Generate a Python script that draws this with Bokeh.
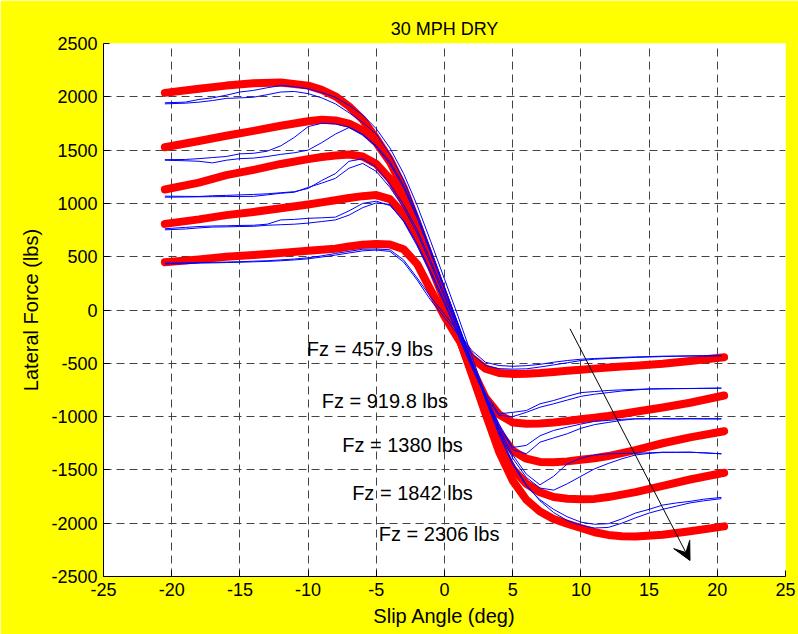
from bokeh.plotting import figure
from bokeh.models import Label, Arrow, VeeHead, FixedTicker
from bokeh.embed import file_html
from bokeh.resources import INLINE

# ---- data ----
loads = ["457.9", "919.8", "1380", "1842", "2306"]

red_x = [-20.5, -18, -16, -14, -12, -10, -9, -8, -7, -6, -5, -4, -3, -2, -1, 0,
         1, 2, 3, 4, 5, 6, 7, 8, 9, 10, 11, 12, 13, 14, 16, 18, 20.5]
red_2306 = [2037, 2075, 2105, 2128, 2135, 2105, 2065, 2005, 1910, 1785, 1610, 1410, 1150, 820, 470, 120,
            -230, -600, -970, -1330, -1600, -1780, -1890, -1960, -2005, -2045, -2085, -2110, -2122, -2125, -2108, -2075, -2030]
red_1842 = [1527, 1585, 1635, 1680, 1728, 1770, 1785, 1778, 1748, 1685, 1570, 1390, 1130, 810, 465, 115,
            -235, -590, -950, -1270, -1490, -1630, -1710, -1755, -1771, -1775, -1772, -1755, -1732, -1709, -1650, -1590, -1527]
red_1380 = [1130, 1195, 1265, 1315, 1370, 1415, 1435, 1450, 1458, 1440, 1370, 1230, 1020, 760, 440, 100,
            -240, -580, -900, -1150, -1320, -1395, -1425, -1428, -1420, -1405, -1390, -1370, -1343, -1315, -1250, -1195, -1137]
red_919 = [808, 850, 890, 920, 955, 990, 1010, 1030, 1050, 1068, 1078, 1040, 900, 690, 410, 90,
           -240, -550, -820, -980, -1055, -1068, -1065, -1055, -1042, -1025, -1010, -995, -975, -955, -915, -870, -802]
red_457 = [448, 475, 500, 515, 535, 555, 565, 575, 595, 612, 620, 615, 570, 430, 185, -60,
           -270, -450, -550, -590, -600, -598, -592, -582, -570, -560, -550, -540, -530, -522, -505, -478, -443]

blue_x = [-20.5, -19, -18, -17, -16, -15, -14, -13, -12, -11, -10, -9, -8, -7, -6, -5, -4, -3, -2, -1, 0,
          1, 2, 3, 4, 5, 6, 7, 8, 9, 10, 11, 12, 13, 14, 15, 16, 17, 18, 19, 20.3]
blue_2306_a = [1944, 1950, 1975, 1990, 2015, 2045, 2060, 2085, 2105, 2095, 2075, 2040, 1996, 1920, 1830, 1700, 1520, 1280, 980, 640, 290,
               -60, -430, -800, -1150, -1430, -1640, -1790, -1900, -1975, -2020, -2045, -2040, -2000, -1950, -1905, -1870, -1840, -1810, -1790, -1770]
blue_2306_b = [1934, 1940, 1950, 1965, 1985, 1990, 1996, 2020, 2045, 2050, 2030, 1990, 1934, 1850, 1760, 1650, 1460, 1220, 900, 560, 210,
               -140, -480, -840, -1170, -1450, -1650, -1780, -1870, -1940, -1990, -2010, -2005, -1960, -1905, -1870, -1830, -1810, -1795, -1775, -1758]
blue_1842_a = [1410, 1412, 1420, 1430, 1440, 1465, 1470, 1490, 1540, 1620, 1720, 1752, 1745, 1715, 1650, 1540, 1390, 1170, 880, 550, 210,
               -130, -480, -810, -1110, -1360, -1540, -1640, -1560, -1443, -1390, -1360, -1350, -1345, -1343, -1340, -1334, -1336, -1334, -1340, -1349]
blue_1842_b = [1405, 1400, 1395, 1380, 1405, 1420, 1425, 1440, 1460, 1475, 1500, 1570, 1650, 1712, 1640, 1530, 1370, 1150, 860, 530, 190,
               -150, -500, -830, -1130, -1390, -1570, -1670, -1690, -1630, -1560, -1490, -1440, -1396, -1360, -1345, -1336, -1334, -1334, -1340, -1349]
blue_1380_a = [1068, 1066, 1065, 1072, 1075, 1080, 1084, 1090, 1100, 1110, 1140, 1215, 1280, 1395, 1418, 1340, 1180, 990, 750, 460, 150,
               -170, -490, -800, -1070, -1290, -1270, -1180, -1130, -1099, -1070, -1045, -1036, -1025, -1021, -1020, -1020, -1021, -1020, -1021, -1021]
blue_1380_b = [1058, 1060, 1062, 1063, 1064, 1065, 1066, 1080, 1095, 1105, 1150, 1190, 1235, 1330, 1375, 1300, 1150, 960, 720, 430, 120,
               -190, -510, -820, -1090, -1310, -1349, -1240, -1200, -1161, -1110, -1075, -1055, -1035, -1021, -1020, -1020, -1021, -1020, -1021, -1021]
blue_919_a = [762, 775, 783, 788, 790, 793, 795, 805, 845, 850, 860, 865, 871, 930, 1000, 1021, 980, 840, 620, 360, 80,
              -220, -520, -780, -974, -960, -943, -880, -849, -810, -775, -765, -755, -749, -745, -742, -740, -738, -737, -735, -733]
blue_919_b = [752, 760, 770, 778, 780, 783, 785, 795, 800, 805, 815, 830, 845, 890, 960, 1005, 990, 830, 600, 340, 60,
              -240, -540, -810, -990, -1000, -960, -912, -880, -845, -810, -790, -775, -760, -750, -740, -738, -737, -736, -735, -733]
blue_457_a = [440, 442, 445, 447, 450, 453, 458, 462, 470, 478, 490, 508, 530, 550, 570, 572, 565, 470, 300, 120, -40,
              -200, -380, -490, -521, -528, -522, -510, -490, -474, -462, -455, -450, -445, -440, -437, -433, -432, -430, -429, -428]
blue_457_b = [432, 434, 440, 442, 445, 448, 452, 456, 462, 470, 480, 497, 515, 535, 555, 562, 550, 450, 280, 90, -70,
              -230, -410, -520, -550, -555, -552, -535, -515, -495, -474, -462, -455, -450, -445, -441, -437, -434, -432, -431, -430]

label_texts = ["Fz = 457.9 lbs", "Fz = 919.8 lbs", "Fz = 1380 lbs", "Fz = 1842 lbs", "Fz = 2306 lbs"]
label_x = [-10.1, -9.0, -7.5, -6.77, -4.82]
label_y = [-370, -849, -1262, -1721, -2106]

title_text = "30 MPH DRY"

arrow_start = (9.2, -176)
arrow_end = (18.0, -2350)

x_ticks = [-25, -20, -15, -10, -5, 0, 5, 10, 15, 20, 25]
y_ticks = [-2500, -2000, -1500, -1000, -500, 0, 500, 1000, 1500, 2000, 2500]

FONT = "Liberation Sans"

p = figure(width=798, height=634, output_backend="svg", toolbar_location=None,
           x_range=(-25, 25), y_range=(-2500, 2500),
           min_border_left=103, min_border_right=13, min_border_top=43, min_border_bottom=58)
p.border_fill_color = "#FFFF00"
p.background_fill_color = "white"
p.outline_line_color = None

p.title.text = title_text
p.title.align = "center"
p.title.text_font = FONT
p.title.text_font_size = "18px"
p.title.text_font_style = "normal"
p.title.text_color = "black"

for ax in (p.xaxis[0], p.yaxis[0]):
    ax.axis_line_color = "black"
    ax.axis_line_width = 1
    ax.major_tick_in = 6
    ax.major_tick_out = 0
    ax.minor_tick_line_color = None
    ax.major_tick_line_color = "black"
    ax.major_label_text_font = FONT
    ax.major_label_text_font_size = "18px"
    ax.major_label_text_color = "black"
    ax.major_label_standoff = 6
    ax.axis_label_text_font = FONT
    ax.axis_label_text_font_size = "20px"
    ax.axis_label_text_font_style = "normal"
    ax.axis_label_text_color = "black"
    ax.axis_label_standoff = 6

p.xaxis.ticker = FixedTicker(ticks=x_ticks)
p.yaxis.ticker = FixedTicker(ticks=y_ticks)
p.xaxis.major_label_overrides = {t: str(t) for t in x_ticks}
p.yaxis.major_label_overrides = {t: str(t) for t in y_ticks}
p.xaxis.axis_label = "Slip Angle (deg)"
p.yaxis.axis_label = "Lateral Force (lbs)"

for g in (p.xgrid[0], p.ygrid[0]):
    g.grid_line_color = "#444444"
    g.grid_line_dash = "8 5"
    g.grid_line_width = 1

reds = [red_457, red_919, red_1380, red_1842, red_2306]
for ys in reds:
    p.line(red_x, ys, line_color="#FF0000", line_width=8, line_cap="round", line_join="round")

blues = [blue_457_a, blue_457_b, blue_919_a, blue_919_b, blue_1380_a, blue_1380_b,
         blue_1842_a, blue_1842_b, blue_2306_a, blue_2306_b]
for ys in blues:
    p.line(blue_x, ys, line_color="#0000FF", line_width=1)

for t, lx, ly in zip(label_texts, label_x, label_y):
    p.add_layout(Label(x=lx, y=ly, text=t, text_font=FONT, text_font_size="20px",
                       text_color="black", text_align="left", text_baseline="middle"))

p.add_layout(Arrow(end=VeeHead(size=18, fill_color="black", line_color="black"),
                   x_start=arrow_start[0], y_start=arrow_start[1],
                   x_end=arrow_end[0], y_end=arrow_end[1],
                   line_color="black", line_width=1))

open("out.html", "w").write(file_html(p, INLINE))
